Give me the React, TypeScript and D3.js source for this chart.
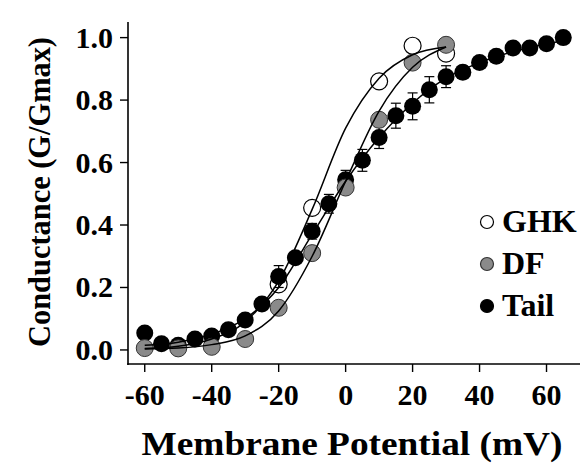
import { scaleLinear, line, curveMonotoneX } from "d3";

const width = 584;
const height = 466;
const FONT = "'Liberation Serif', 'DejaVu Serif', serif";

// measured points
const tailV = [-60, -55, -50, -45, -40, -35, -30, -25, -20, -15, -10, -5, 0, 5, 10, 15, 20, 25, 30, 35, 40, 45, 50, 55, 60, 65];
const tailG = [0.054, 0.02, 0.015, 0.035, 0.045, 0.065, 0.096, 0.147, 0.235, 0.295, 0.38, 0.468, 0.545, 0.607, 0.68, 0.75, 0.78, 0.833, 0.875, 0.889, 0.92, 0.94, 0.967, 0.967, 0.98, 1.0];
const tailErr = [0.01, 0.01, 0.01, 0.01, 0.01, 0.012, 0.012, 0.015, 0.035, 0.015, 0.025, 0.03, 0.03, 0.035, 0.035, 0.04, 0.043, 0.042, 0.035, 0.02, 0.01, 0.01, 0.01, 0.01, 0.01, 0.01];

const dfV = [-60, -50, -40, -30, -20, -10, 0, 10, 20, 30];
const dfG = [0.006, 0.005, 0.01, 0.035, 0.135, 0.31, 0.52, 0.737, 0.92, 0.977];

const ghkV = [-20, -10, 10, 20, 30];
const ghkG = [0.21, 0.455, 0.86, 0.974, 0.949];

// fitted curves
const ghkFitV = [-60, -50, -40, -30, -20, -10, 0, 10, 20, 30];
const ghkFitG = [0.005, 0.012, 0.035, 0.09, 0.22, 0.45, 0.71, 0.87, 0.945, 0.97];
const dfFitV = [-60, -50, -40, -30, -20, -10, 0, 10, 20, 30];
const dfFitG = [0.003, 0.006, 0.017, 0.045, 0.125, 0.3, 0.54, 0.765, 0.905, 0.97];
const tailFitV = [-60, -50, -40, -30, -20, -10, 0, 10, 20, 30, 40, 50, 60, 65];
const tailFitG = [0.015, 0.025, 0.05, 0.1, 0.2, 0.37, 0.54, 0.68, 0.79, 0.87, 0.92, 0.955, 0.98, 0.99];

const xTicks = [-60, -40, -20, 0, 20, 40, 60];
const yTicks = [0, 0.2, 0.4, 0.6, 0.8, 1.0];

const legendItems = [
  { label: "GHK", fill: "#ffffff" },
  { label: "DF", fill: "#8a8a8a" },
  { label: "Tail", fill: "#000000" },
];

type Pt = [number, number];
const zip = (a: number[], b: number[]): Pt[] => a.map((v, i) => [v, b[i]]);

export default function App() {
  const xScale = scaleLinear().domain([-65, 70]).range([128, 580]);
  const yScale = scaleLinear().domain([-0.045, 1.05]).range([364, 22]);

  const fitLine = line<Pt>()
    .x((d) => xScale(d[0]))
    .y((d) => yScale(d[1]))
    .curve(curveMonotoneX);

  const r = 8.5;

  return (
    <svg width={width} height={height} style={{ position: "absolute", left: 0, top: 0, background: "#fff" }} fontFamily={FONT}>
      <rect width={width} height={height} fill="#fff" />

      {/* axes */}
      <line x1={128} x2={128} y1={22} y2={365} stroke="#000" strokeWidth={1.6} />
      <line x1={127.2} x2={580} y1={364} y2={364} stroke="#000" strokeWidth={1.6} />
      {yTicks.map((t) => (
        <g key={t}>
          <line x1={120} x2={128} y1={yScale(t)} y2={yScale(t)} stroke="#000" strokeWidth={1.4} />
          <text x={113} y={yScale(t) + 10} textAnchor="end" fontSize={30} fontWeight="bold">
            {t.toFixed(1)}
          </text>
        </g>
      ))}
      {xTicks.map((t) => (
        <g key={t}>
          <line x1={xScale(t)} x2={xScale(t)} y1={364} y2={372} stroke="#000" strokeWidth={1.4} />
          <text x={xScale(t)} y={405} textAnchor="middle" fontSize={30} fontWeight="bold">
            {t}
          </text>
        </g>
      ))}

      <text x={352} y={455} textAnchor="middle" fontSize={34} fontWeight="bold" textLength={421} lengthAdjust="spacingAndGlyphs">
        Membrane Potential (mV)
      </text>
      <text
        transform={`translate(50, 192) rotate(-90)`}
        textAnchor="middle"
        fontSize={32}
        fontWeight="bold"
        textLength={310}
        lengthAdjust="spacingAndGlyphs"
      >
        Conductance (G/Gmax)
      </text>

      {/* GHK open circles */}
      {zip(ghkV, ghkG).map(([v, g], i) => (
        <circle key={"g" + i} cx={xScale(v)} cy={yScale(g)} r={r} fill="#fff" stroke="#000" strokeWidth={1.2} />
      ))}

      {/* tail error bars + markers */}
      {tailV.map((v, i) => {
        const x = xScale(v);
        const y1 = yScale(tailG[i] + tailErr[i]);
        const y2 = yScale(tailG[i] - tailErr[i]);
        return (
          <g key={"e" + i} stroke="#000" strokeWidth={1.2}>
            <line x1={x} x2={x} y1={y1} y2={y2} />
            <line x1={x - 5} x2={x + 5} y1={y1} y2={y1} />
            <line x1={x - 5} x2={x + 5} y1={y2} y2={y2} />
          </g>
        );
      })}
      {zip(tailV, tailG).map(([v, g], i) => (
        <circle key={"t" + i} cx={xScale(v)} cy={yScale(g)} r={r} fill="#000" />
      ))}

      {/* DF grey */}
      {zip(dfV, dfG).map(([v, g], i) => (
        <circle key={"d" + i} cx={xScale(v)} cy={yScale(g)} r={r} fill="#8a8a8a" stroke="#333" strokeWidth={1} />
      ))}

      {/* fits */}
      <path d={fitLine(zip(ghkFitV, ghkFitG)) || ""} fill="none" stroke="#000" strokeWidth={1.5} />
      <path d={fitLine(zip(dfFitV, dfFitG)) || ""} fill="none" stroke="#000" strokeWidth={1.5} />
      <path d={fitLine(zip(tailFitV, tailFitG)) || ""} fill="none" stroke="#000" strokeWidth={1.5} />

      {/* legend */}
      {legendItems.map((d, i) => (
        <g key={d.label} transform={`translate(487, ${222 + i * 42})`}>
          <circle r={6.5} fill={d.fill} stroke={i === 1 ? "#333" : "#000"} strokeWidth={1.2} />
          <text x={15} y={10} fontSize={32} fontWeight="bold">
            {d.label}
          </text>
        </g>
      ))}
    </svg>
  );
}
